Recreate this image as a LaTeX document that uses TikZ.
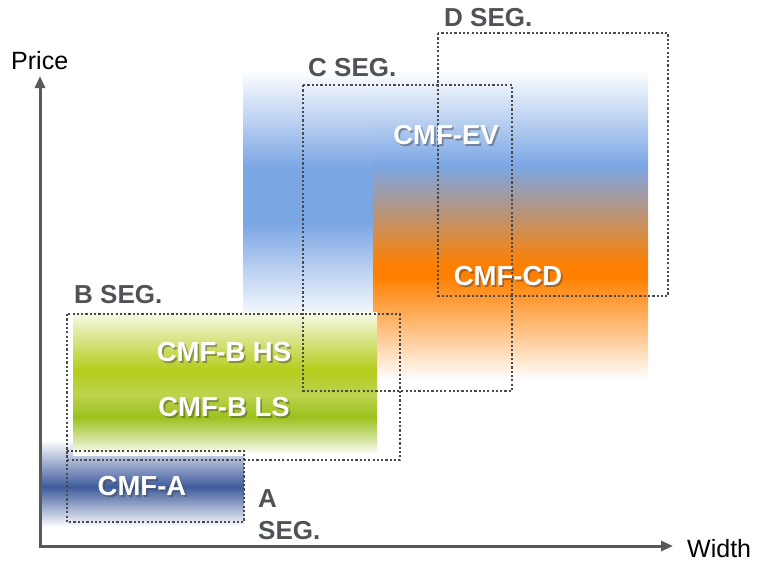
\documentclass[tikz,border=0pt]{standalone}
\usepackage{fontspec}
\setmainfont{Liberation Sans}
\usetikzlibrary{arrows.meta,calc}

\definecolor{axisgray}{HTML}{595959}
\definecolor{boxgray}{HTML}{4A4A4A}
\definecolor{seggray}{HTML}{4F5256}
\definecolor{evblue}{HTML}{7BA6E4}
\definecolor{cdorange}{HTML}{FF8000}
\definecolor{hsgreen}{HTML}{B6CC1C}
\definecolor{midgreen}{HTML}{BCD34E}
\definecolor{lsgreen}{HTML}{9CC11E}
\definecolor{anavy}{HTML}{3E5B9C}

% vertical colour ramps; the band itself is mapped onto 25bp..75bp,
% measured from its bottom edge
\pgfdeclareverticalshading{evleft}{100bp}{
  color(0bp)=(white); color(25bp)=(evblue!6); color(43.8bp)=(evblue);
  color(55bp)=(evblue); color(75bp)=(white); color(100bp)=(white)}
\pgfdeclareverticalshading{evcd}{100bp}{
  color(0bp)=(white); color(25bp)=(white); color(41.5bp)=(cdorange);
  color(43.5bp)=(cdorange); color(59.5bp)=(evblue); color(75bp)=(white);
  color(100bp)=(white)}
\pgfdeclareverticalshading{bband}{100bp}{
  color(0bp)=(white); color(25bp)=(white); color(30bp)=(lsgreen!40);
  color(38.3bp)=(lsgreen); color(46bp)=(midgreen); color(54.7bp)=(hsgreen);
  color(68.5bp)=(hsgreen!40); color(75bp)=(hsgreen!8); color(100bp)=(white)}
\pgfdeclareverticalshading{aband}{100bp}{
  color(0bp)=(white); color(25bp)=(white); color(48bp)=(anavy);
  color(75bp)=(white); color(100bp)=(white)}

\tikzset{
  band/.style={draw=none},
  segbox/.style={draw=boxgray, line width=2.3pt, dash pattern=on 2.2pt off 2.1pt},
  seglabel/.style={text=seggray, font=\bfseries\fontsize{26}{29}\selectfont,
    inner sep=0pt, anchor=west},
  prodlabel/.style={text=white, font=\bfseries\fontsize{27.5}{31}\selectfont,
    inner sep=0pt},
  prodshadow/.style={text=black!75, opacity=0.45,
    font=\bfseries\fontsize{27.5}{31}\selectfont, inner sep=0pt},
  axislabel/.style={text=black, font=\fontsize{25}{28}\selectfont,
    inner sep=0pt, anchor=base west},
  axisline/.style={draw=axisgray, line width=3pt,
    {Triangle[length=12pt,width=10pt]}-{Triangle[length=12pt,width=10pt]}},
}

% white product name over a soft dark drop shadow
\newcommand{\prodname}[3]{%
  \node[prodshadow] at ($(#2)+(1.8,1.8)$) {#3};
  \node[prodlabel] (#1) at (#2) {#3};}

\begin{document}
\begin{tikzpicture}[x=1pt,y=-1pt]
\useasboundingbox (0,0) rectangle (759,562);

% colour bands
\shade[band, shading=evleft] (243,70) rectangle (373,315);
\shade[band, shading=evcd] (373,70) rectangle (648,380);
\shade[band, shading=aband] (40,440) rectangle (244,527);
\shade[band, shading=bband] (73,312) rectangle (377,455);

% segment outlines
\draw[segbox] (67,451) rectangle (244,522);
\draw[segbox] (67,314) rectangle (400,460);
\draw[segbox] (303,85) rectangle (512,391);
\draw[segbox] (438,33) rectangle (668,296);

% axes
\coordinate (ytip) at (40,76);
\coordinate (origin) at (40,546);
\coordinate (xtip) at (673,546);
\draw[axisline] (ytip) -- (origin) -- (xtip);
\node[axislabel] (price) at (11,69) {Price};
\node[axislabel] (width) at (687,557) {Width};

% segment names
\node[seglabel] (dseg) at (444,17.5) {D SEG.};
\node[seglabel] (cseg) at (308,67.5) {C SEG.};
\node[seglabel] (bseg) at (74,294.5) {B SEG.};
\node[seglabel] (aseg1) at (258,499) {A};
\node[seglabel] (aseg2) at (258,531) {SEG.};

% product names
\prodname{ev}{446,135}{CMF-EV}
\prodname{cd}{508,276}{CMF-CD}
\prodname{bhs}{224,352}{CMF-B HS}
\prodname{bls}{224,407}{CMF-B LS}
\prodname{a}{142,486}{CMF-A}
\end{tikzpicture}
\end{document}
